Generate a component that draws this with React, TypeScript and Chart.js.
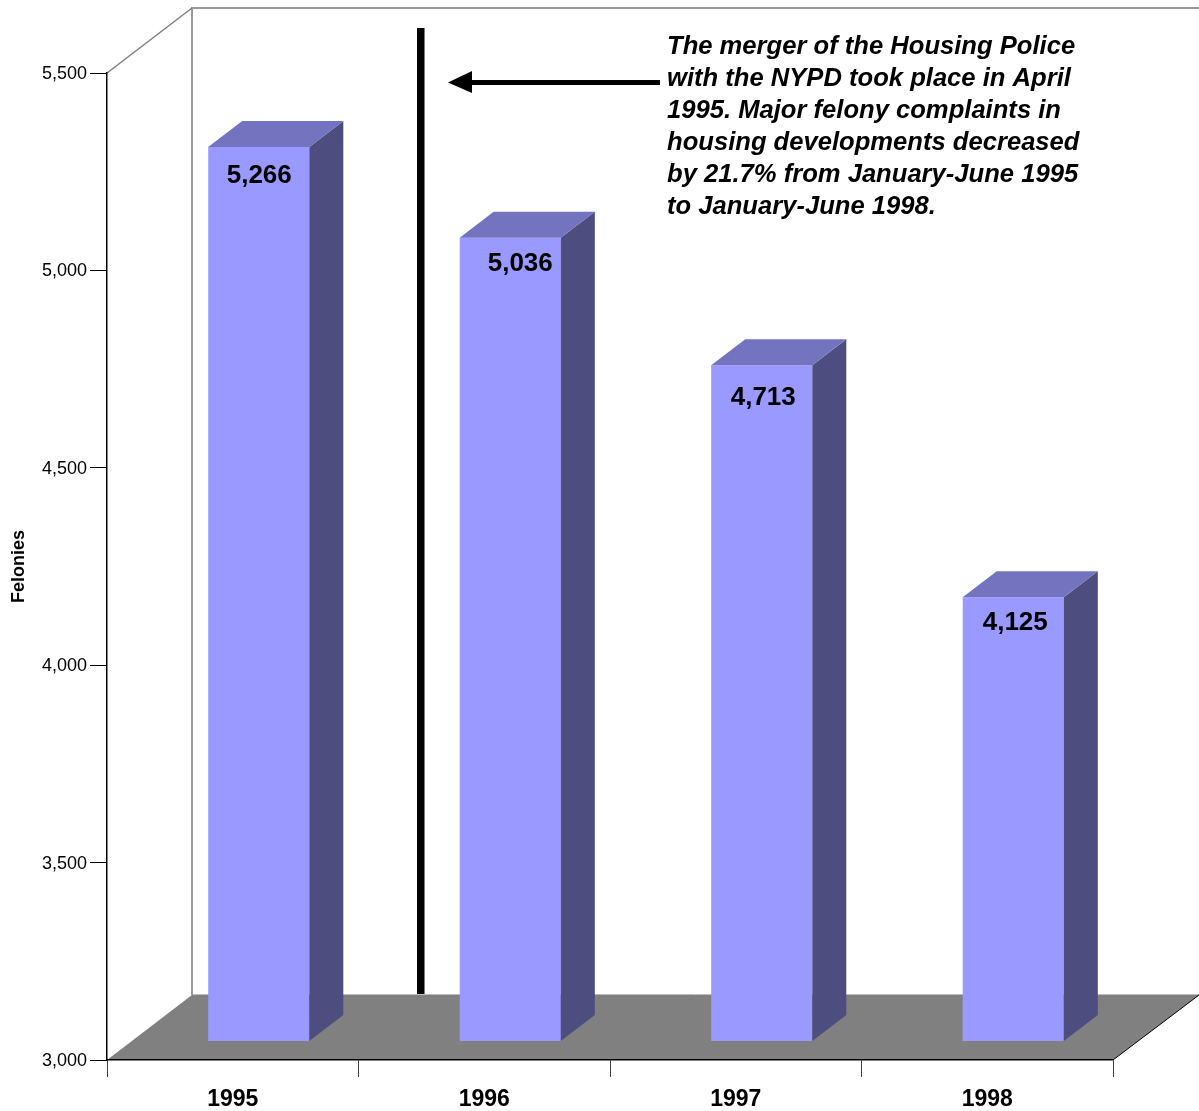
import React, { useEffect, useRef } from "react";
import { Chart, registerables } from "chart.js";

Chart.register(...registerables);

const years = ["1995", "1996", "1997", "1998"];
const felonies = [5266, 5036, 4713, 4125];
const noteLines = [
  "The merger of the Housing Police",
  "with the NYPD took place in April",
  "1995. Major felony complaints in",
  "housing developments decreased",
  "by 21.7% from January-June 1995",
  "to January-June 1998.",
];
const valueLabelOffsets = [
  [0.5, 29],
  [10, 26.5],
  [1.5, 33],
  [2, 25],
];

const FONT = '"Liberation Sans", Arial, sans-serif';
const WALL_DX = 85;
const WALL_DY = -65;
const BAR_SHIFT_X = 26;
const BAR_SHIFT_Y = -18.5;
const BAR_DX = 34;
const BAR_DY = -26;

const poly = (ctx: CanvasRenderingContext2D, pts: number[][]) => {
  ctx.beginPath();
  pts.forEach(([x, y], i) => (i ? ctx.lineTo(x, y) : ctx.moveTo(x, y)));
  ctx.closePath();
};

const stagePlugin = {
  id: "stage",
  beforeDraw(chart: any) {
    const { ctx, chartArea: a, width, height } = chart;
    ctx.save();
    ctx.fillStyle = "#ffffff";
    ctx.fillRect(0, 0, width, height);
    const bx = a.left + WALL_DX;
    const by = a.bottom + WALL_DY;
    const tx = a.top + WALL_DY;
    poly(ctx, [
      [a.left, a.bottom],
      [bx, by],
      [a.right + WALL_DX + 1, by],
      [a.right, a.bottom],
    ]);
    ctx.fillStyle = "#808080";
    ctx.fill();
    ctx.strokeStyle = "#bdbdbd";
    ctx.lineWidth = 1;
    ctx.beginPath();
    ctx.moveTo(bx, by - 0.5);
    ctx.lineTo(a.right + WALL_DX + 1, by - 0.5);
    ctx.stroke();
    ctx.strokeStyle = "#999999";
    ctx.lineWidth = 2;
    ctx.beginPath();
    ctx.moveTo(bx, by);
    ctx.lineTo(bx, tx);
    ctx.lineTo(a.right + WALL_DX + 1, tx);
    ctx.stroke();
    ctx.strokeStyle = "#808080";
    ctx.lineWidth = 1.5;
    ctx.beginPath();
    ctx.moveTo(a.left, a.top);
    ctx.lineTo(bx, tx);
    ctx.stroke();
    ctx.strokeStyle = "#000000";
    ctx.lineWidth = 1;
    ctx.beginPath();
    ctx.moveTo(a.right, a.bottom);
    ctx.lineTo(a.right + WALL_DX + 1, by);
    ctx.stroke();
    ctx.restore();
  },
  beforeDatasetsDraw(chart: any) {
    const { ctx } = chart;
    ctx.save();
    ctx.translate(BAR_SHIFT_X, BAR_SHIFT_Y);
  },
  afterDatasetsDraw(chart: any) {
    const { ctx } = chart;
    ctx.restore();
    const bars = chart.getDatasetMeta(0).data;
    ctx.save();
    bars.forEach((bar: any, i: number) => {
      const left = bar.x - bar.width / 2 + BAR_SHIFT_X;
      const right = bar.x + bar.width / 2 + BAR_SHIFT_X;
      const top = bar.y + BAR_SHIFT_Y;
      const bottom = bar.base + BAR_SHIFT_Y;
      poly(ctx, [
        [right, top],
        [right + BAR_DX, top + BAR_DY],
        [right + BAR_DX, bottom + BAR_DY],
        [right, bottom],
      ]);
      ctx.fillStyle = "#4D4D80";
      ctx.fill();
      poly(ctx, [
        [left, top],
        [left + BAR_DX, top + BAR_DY],
        [right + BAR_DX, top + BAR_DY],
        [right, top],
      ]);
      ctx.fillStyle = "#7373BF";
      ctx.fill();

      ctx.fillStyle = "#000000";
      ctx.font = `bold 26px ${FONT}`;
      ctx.textAlign = "center";
      ctx.textBaseline = "middle";
      const [ox, oy] = valueLabelOffsets[i];
      ctx.fillText(
        felonies[i].toLocaleString("en-US"),
        (left + right) / 2 + ox,
        top + oy
      );
    });

    // Merger marker, arrow and note
    ctx.fillStyle = "#000000";
    ctx.fillRect(417, 28, 7.5, 966);
    ctx.fillRect(470, 80, 190, 5);
    poly(ctx, [
      [448, 82.5],
      [472, 71],
      [472, 93],
    ]);
    ctx.fill();
    ctx.font = `italic bold 25.6px ${FONT}`;
    ctx.textAlign = "left";
    ctx.textBaseline = "middle";
    noteLines.forEach((line, i) => ctx.fillText(line, 667, 47 + i * 32));
    ctx.restore();
  },
};

export default function App() {
  const ref = useRef<HTMLCanvasElement>(null);
  useEffect(() => {
    const chart = new Chart(ref.current!, {
      type: "bar",
      data: {
        labels: years,
        datasets: [
          {
            label: "Felonies",
            data: felonies,
            base: 3000,
            backgroundColor: "#9999FF",
            borderWidth: 0,
            barPercentage: 0.402,
            categoryPercentage: 1,
            clip: false,
          },
        ],
      },
      options: {
        responsive: false,
        animation: false,
        layout: { padding: { top: 73, right: 86, left: 0, bottom: 0 } },
        plugins: { legend: { display: false }, tooltip: { enabled: false } },
        scales: {
          x: {
            afterFit: (s: any) => {
              s.height = 51;
            },
            grid: {
              drawOnChartArea: false,
              drawTicks: true,
              tickLength: 17,
              color: "#404040",
              lineWidth: 1,
            },
            border: { display: true, color: "#000000", width: 1.5 },
            ticks: {
              color: "#000000",
              font: { family: FONT, size: 23, weight: "bold" },
              padding: 9,
              maxRotation: 0,
            },
          },
          y: {
            min: 3000,
            max: 5500,
            afterFit: (s: any) => {
              s.width = 107;
            },
            grid: {
              drawOnChartArea: false,
              drawTicks: true,
              tickLength: 17,
              color: "#000000",
              lineWidth: 1,
            },
            border: { display: true, color: "#000000", width: 1.5 },
            ticks: {
              stepSize: 500,
              color: "#000000",
              padding: 3,
              labelOffset: 1,
              font: { family: FONT, size: 18 },
              callback: (v: any) => Number(v).toLocaleString("en-US"),
            },
            title: {
              display: true,
              text: "Felonies",
              color: "#000000",
              font: { family: FONT, size: 18, weight: "bold" },
              padding: { top: 8, bottom: 0 },
            },
          },
        },
      },
      plugins: [stagePlugin],
    } as any);
    return () => chart.destroy();
  }, []);
  return (
    <div style={{ position: "absolute", left: 0, top: 0, width: 1199, height: 1111 }}>
      <canvas ref={ref} width={1199} height={1111} style={{ display: "block" }} />
    </div>
  );
}
